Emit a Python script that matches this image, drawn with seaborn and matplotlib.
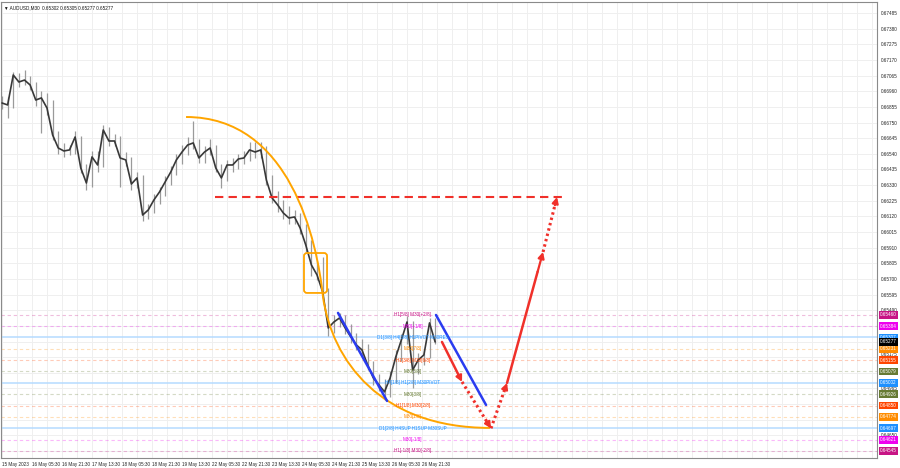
import matplotlib
matplotlib.use('Agg')
import matplotlib.pyplot as plt
import matplotlib.transforms as mtransforms
from matplotlib.patches import FancyBboxPatch, PathPatch
from matplotlib.path import Path
import seaborn as sns
import numpy as np
import pandas as pd

# AUDUSD M30, one sample every 6 bars (3 hours)
BARS_PER_SAMPLE = 6
closes = [0.66881, 0.66868, 0.67069, 0.67022, 0.67035, 0.67002, 0.66901, 0.66915,
          0.66847, 0.66666, 0.66579, 0.66559, 0.66566, 0.66653, 0.66445, 0.66344,
          0.66519, 0.66465, 0.66700, 0.66626, 0.66626, 0.66512, 0.66499, 0.66337,
          0.66378, 0.66129, 0.66163, 0.66230, 0.66284, 0.66351, 0.66418, 0.66499,
          0.66552, 0.66599, 0.66613, 0.66512, 0.66552, 0.66579, 0.66445, 0.66378,
          0.66465, 0.66465, 0.66505, 0.66512, 0.66566, 0.66552, 0.66566, 0.66364,
          0.66244, 0.66197, 0.66143, 0.66109, 0.66116, 0.66042, 0.65928, 0.65794,
          0.65727, 0.65613, 0.65371, 0.65411, 0.65438, 0.65371, 0.65311, 0.65257,
          0.65223, 0.65123, 0.65036, 0.64989, 0.64942, 0.65036, 0.65176, 0.65291,
          0.65411, 0.65089, 0.65156, 0.65190, 0.65405, 0.65277]
highs = [0.66930, 0.66920, 0.67090, 0.67080, 0.67100, 0.67060, 0.67020, 0.66960,
         0.66950, 0.66900, 0.66690, 0.66610, 0.66600, 0.66690, 0.66660, 0.66470,
         0.66560, 0.66560, 0.66730, 0.66720, 0.66670, 0.66660, 0.66550, 0.66520,
         0.66420, 0.66400, 0.66200, 0.66270, 0.66320, 0.66390, 0.66460, 0.66540,
         0.66600, 0.66650, 0.66760, 0.66640, 0.66590, 0.66640, 0.66600, 0.66470,
         0.66500, 0.66510, 0.66540, 0.66560, 0.66620, 0.66620, 0.66620, 0.66590,
         0.66400, 0.66290, 0.66230, 0.66190, 0.66160, 0.66140, 0.66070, 0.65960,
         0.65820, 0.65850, 0.65640, 0.65460, 0.65470, 0.65460, 0.65400, 0.65340,
         0.65300, 0.65260, 0.65150, 0.65060, 0.65030, 0.65080, 0.65220, 0.65330,
         0.65450, 0.65420, 0.65200, 0.65230, 0.65440, 0.65440]
lows = [0.66840, 0.66780, 0.66850, 0.66990, 0.67000, 0.66970, 0.66860, 0.66680,
        0.66800, 0.66630, 0.66540, 0.66520, 0.66530, 0.66540, 0.66410, 0.66300,
        0.66320, 0.66420, 0.66450, 0.66590, 0.66590, 0.66320, 0.66460, 0.66300,
        0.66310, 0.66090, 0.66100, 0.66140, 0.66200, 0.66260, 0.66330, 0.66400,
        0.66470, 0.66530, 0.66570, 0.66480, 0.66480, 0.66530, 0.66420, 0.66310,
        0.66360, 0.66420, 0.66440, 0.66470, 0.66490, 0.66510, 0.66510, 0.66330,
        0.66210, 0.66150, 0.66100, 0.66070, 0.66070, 0.66000, 0.65880, 0.65720,
        0.65690, 0.65580, 0.65320, 0.65340, 0.65380, 0.65330, 0.65270, 0.65220,
        0.65180, 0.65090, 0.64990, 0.64950, 0.64890, 0.64910, 0.65000, 0.65150,
        0.65260, 0.64970, 0.65060, 0.65120, 0.65170, 0.65260]

title_text = '\u25BC AUDUSD,M30  0.65302 0.65305 0.65277 0.65277'
last_price = 0.65277

date_labels = ['15 May 2023', '16 May 05:30', '16 May 21:30', '17 May 13:30',
               '18 May 05:30', '18 May 21:30', '19 May 13:30', '22 May 05:30',
               '22 May 21:30', '23 May 13:30', '24 May 05:30', '24 May 21:30',
               '25 May 13:30', '26 May 05:30', '26 May 21:30']
BARS_PER_LABEL = 32

price_ticks = [0.67485, 0.67380, 0.67275, 0.67170, 0.67065, 0.66960, 0.66855,
               0.66750, 0.66645, 0.66540, 0.66435, 0.66330, 0.66225, 0.66120,
               0.66015, 0.65910, 0.65805, 0.65700, 0.65595, 0.65490, 0.65385,
               0.65280, 0.65175, 0.65070, 0.64965, 0.64860, 0.64755, 0.64650,
               0.64545]
hidden_ticks = [0.65385, 0.65280, 0.65070, 0.64860, 0.64755, 0.64545]

# Murrey math levels
level_prices = [0.65460, 0.65384, 0.65307, 0.65231, 0.65155, 0.65079, 0.65002,
                0.64926, 0.64850, 0.64774, 0.64697, 0.64621, 0.64545]
level_texts = ['H1[5/8] M30[+2/8]', 'M30[+1/8]', 'D1[3/8] H4[3/8] H1PIVOT M30RES',
               'M30[7/8]', 'H1[3/8] M30[6/8]', 'M30[5/8]', 'H4[1/8] H1[2/8] M30PIVOT',
               'M30[3/8]', 'H1[1/8] M30[2/8]', 'M30[1/8]', 'D1[2/8] H4SUP H1SUP M30SUP',
               'M30[-1/8]', 'H1[-1/8] M30[-2/8]']
level_colors = ['#c71585', '#ee00ee', '#1e90ff', '#ff8c00', '#ff4500', '#667a33',
                '#1e90ff', '#667a33', '#ff4500', '#ff8c00', '#1e90ff', '#ee00ee',
                '#c71585']
level_text_bar = 438

# drawn objects, (bar, price)
target_level = 0.66250
target_bars = (227, 603)
arc_points = [(196.3, 0.66787), (307.2, 0.66787), (336.0, 0.65962), (342.4, 0.65579),
              (352.0, 0.65156), (403.2, 0.64700), (520.5, 0.64700)]
box_bars = (322.1, 346.7)
box_prices = (0.65606, 0.65874)
channel_1 = [(358.4, 0.65472), (410.7, 0.64881)]
channel_2 = [(462.9, 0.65458), (516.3, 0.64854)]
path_bars = [469.3, 490.7, 521.6, 538.7, 577.1, 592.0]
path_prices = [0.65277, 0.65009, 0.64697, 0.65002, 0.65881, 0.66250]
path_dotted = [False, True, True, False, True]

df = pd.DataFrame({'bar': np.arange(len(closes)) * BARS_PER_SAMPLE,
                   'close': closes, 'high': highs, 'low': lows})

sns.set_style('white')
plt.rcParams['font.family'] = ['Liberation Sans', 'DejaVu Sans']
FS = 3.3

fig = plt.figure(figsize=(9, 4.68), dpi=100)
ax = fig.add_axes([1 / 900, 10 / 468, 876 / 900, 456 / 468])
ax.set_xlim(-1.07, 933.3)
ax.set_ylim(0.64498, 0.67559)

# grid
ax.set_xticks(np.arange(0, 934, BARS_PER_LABEL / 2), minor=True)
ax.set_xticks(np.arange(len(date_labels)) * BARS_PER_LABEL)
ax.set_xticklabels(date_labels, ha='left', fontsize=FS, color='#222222')
ax.tick_params(axis='x', which='major', length=2, width=0.5, pad=1, color='#777777')
ax.tick_params(axis='x', which='minor', length=0)
ax.grid(True, which='both', axis='x', color='#efefef', lw=0.7)
ax.set_yticks(price_ticks)
ax.set_yticklabels(['' if t in hidden_ticks else f'{t:.5f}' for t in price_ticks],
                   fontsize=FS, color='#222222')
ax.yaxis.tick_right()
ax.tick_params(axis='y', length=0, pad=3)
for lab, t in zip(ax.get_yticklabels(), price_ticks):
    if abs(t - 0.65175) < 1e-7:
        lab.set_va('bottom')
ax.grid(True, axis='y', color='#efefef', lw=0.7)
ax.set_axisbelow(True)
for s in ax.spines.values():
    s.set_color('#8a8a8a')
    s.set_linewidth(0.8)

# levels
trans = mtransforms.blended_transform_factory(ax.transAxes, ax.transData)
for p, t, c in zip(level_prices, level_texts, level_colors):
    if c == '#1e90ff':
        ax.axhline(p, color='#b5dbff', lw=1.1, zorder=1)
    else:
        ax.axhline(p, color=c, lw=0.8, ls=(0, (3, 2.5)), alpha=0.28, zorder=1)
    ax.text(level_text_bar, p, t, ha='center', va='center', fontsize=FS, color=c, zorder=6)
    ax.text(1.0035, p, f'{p:.5f}', transform=trans, ha='left', va='center', fontsize=FS,
            color='white', bbox=dict(boxstyle='square,pad=0.3', fc=c, ec='none'), clip_on=False)
ax.text(1.0035, last_price, f'{last_price:.5f}', transform=trans, ha='left', va='center',
        fontsize=FS, color='white', bbox=dict(boxstyle='square,pad=0.3', fc='black', ec='none'),
        clip_on=False)

# price
ax.vlines(df['bar'], df['low'], df['high'], color='#9a9a9a', lw=0.9, zorder=3)
sns.lineplot(data=df, x='bar', y='close', color='#383838', lw=1.2, ax=ax, zorder=4)
ax.set_xlabel('')
ax.set_ylabel('')

# target line
ax.hlines(target_level, *target_bars, color='#f0302a', lw=1.5, ls=(0, (4, 2.5)), zorder=5)

# arc
codes = [Path.MOVETO] + [Path.CURVE4] * 6
ax.add_patch(PathPatch(Path(arc_points, codes), fc='none', ec='#ffa500', lw=1.4, zorder=5))

# box
x_per_px = (933.3 + 1.07) / 876
y_per_px = (0.67559 - 0.64498) / 456
ax.add_patch(FancyBboxPatch((box_bars[0], box_prices[0]), box_bars[1] - box_bars[0],
                            box_prices[1] - box_prices[0],
                            boxstyle=f'round,pad=0,rounding_size={3 * x_per_px}',
                            mutation_aspect=y_per_px / x_per_px,
                            fc='none', ec='#ffa500', lw=1.3, zorder=5))

# channel lines
for seg in (channel_1, channel_2):
    ax.plot([seg[0][0], seg[1][0]], [seg[0][1], seg[1][1]], color='#2a3cf0', lw=1.8, zorder=5)

# projected path
for i, dotted in enumerate(path_dotted):
    x0, x1 = path_bars[i], path_bars[i + 1]
    y0, y1 = path_prices[i], path_prices[i + 1]
    xm, ym = x0 + 0.85 * (x1 - x0), y0 + 0.85 * (y1 - y0)
    ax.plot([x0, xm], [y0, ym], color='#f0302a', lw=1.8 if not dotted else 2.2,
            ls=(0, (0.8, 1.0)) if dotted else '-', zorder=5)
    ax.annotate('', xy=(x1, y1), xytext=(xm, ym),
                arrowprops=dict(arrowstyle='-|>,head_length=0.35,head_width=0.18',
                                color='#f0302a', lw=1.6, shrinkA=0, shrinkB=0), zorder=5)

ax.text(0.0035, 0.993, title_text, transform=ax.transAxes, ha='left', va='top',
        fontsize=FS, color='#111111')

fig.savefig('out.png', dpi=100)
